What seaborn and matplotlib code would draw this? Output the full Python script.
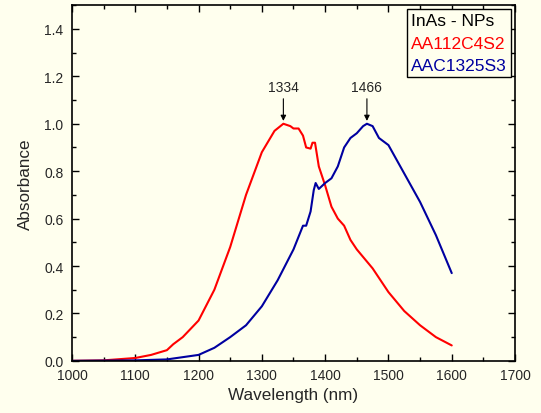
import numpy as np
import pandas as pd
import matplotlib
matplotlib.use("Agg")
import matplotlib.pyplot as plt
from matplotlib.ticker import MultipleLocator
import seaborn as sns

# Data
red_label = "AA112C4S2"
red_x = [1000, 1050, 1100, 1125, 1150, 1160, 1175, 1200, 1225, 1250, 1275, 1300, 1320, 1334,
         1345, 1350, 1358, 1365, 1370, 1377, 1380, 1384, 1390, 1400, 1410, 1420, 1430, 1440,
         1450, 1475, 1500, 1525, 1550, 1575, 1600]
red_y = [0.0, 0.002, 0.012, 0.025, 0.045, 0.07, 0.10, 0.17, 0.30, 0.48, 0.70, 0.88, 0.97, 1.0,
         0.99, 0.98, 0.98, 0.95, 0.90, 0.895, 0.92, 0.92, 0.82, 0.74, 0.65, 0.60, 0.57, 0.51,
         0.47, 0.39, 0.29, 0.21, 0.15, 0.10, 0.065]

blue_label = "AAC1325S3"
blue_x = [1000, 1100, 1150, 1200, 1225, 1250, 1265, 1275, 1300, 1325, 1350, 1365, 1370, 1377,
          1382, 1385, 1390, 1400, 1410, 1420, 1430, 1440, 1450, 1460, 1466, 1475, 1485, 1500,
          1525, 1550, 1575, 1600]
blue_y = [0.0, 0.002, 0.006, 0.025, 0.055, 0.10, 0.13, 0.15, 0.23, 0.34, 0.47, 0.57, 0.57, 0.63,
          0.72, 0.75, 0.725, 0.75, 0.77, 0.82, 0.90, 0.94, 0.96, 0.99, 1.0, 0.99, 0.94, 0.91,
          0.79, 0.67, 0.53, 0.37]

peak_labels = ["1334", "1466"]
peak_x = [1334, 1466]
peak_y = [1.0, 1.0]

legend_title = "InAs - NPs"

bg = "#FFFFEE"

sns.set_style("ticks")
plt.rcParams['font.family'] = ['Liberation Sans', 'DejaVu Sans']

fig = plt.figure(figsize=(5.41, 4.14), dpi=100, facecolor=bg)
ax = fig.add_axes([0.133, 0.126, 0.819, 0.859])
ax.set_facecolor(bg)

df_red = pd.DataFrame({"x": red_x, "y": red_y})
df_blue = pd.DataFrame({"x": blue_x, "y": blue_y})
sns.lineplot(data=df_red, x="x", y="y", ax=ax, color="#FF0000", linewidth=1.5)
sns.lineplot(data=df_blue, x="x", y="y", ax=ax, color="#0000A0", linewidth=1.5)

ax.set_xlim(1000, 1700)
ax.set_ylim(0, 1.5)
ax.xaxis.set_major_locator(MultipleLocator(100))
ax.xaxis.set_minor_locator(MultipleLocator(50))
ax.yaxis.set_major_locator(MultipleLocator(0.2))
ax.yaxis.set_minor_locator(MultipleLocator(0.1))
ax.yaxis.set_major_formatter(matplotlib.ticker.FormatStrFormatter("%.1f"))
ax.tick_params(which="both", direction="in", top=True, right=True, labelsize=10, color="black")
ax.tick_params(axis="x", which="major", pad=5)
ax.tick_params(axis="y", which="major", pad=6)
ax.tick_params(which="major", length=5, width=1)
ax.tick_params(which="minor", length=3, width=1)
for s in ax.spines.values():
    s.set_linewidth(1.2)
    s.set_color("black")
    s.set_visible(True)

ax.set_xlabel("Wavelength (nm)", fontsize=12.3, labelpad=4)
ax.set_ylabel("Absorbance", fontsize=12.3, labelpad=8)

for lab, px, py in zip(peak_labels, peak_x, peak_y):
    ax.annotate(lab, xy=(px, py + 0.012), xytext=(px, py + 0.125), ha="center", va="bottom",
                fontsize=10,
                arrowprops=dict(arrowstyle="-|>", color="black", lw=0.8, mutation_scale=8,
                                shrinkA=1, shrinkB=0))

# text-only legend
from matplotlib.offsetbox import TextArea, VPacker, AnchoredOffsetbox
texts = [TextArea(legend_title, textprops=dict(color="black", fontsize=12.5)),
         TextArea(red_label, textprops=dict(color="#FF0000", fontsize=12.5)),
         TextArea(blue_label, textprops=dict(color="#0000A0", fontsize=12.5)),]
box = VPacker(children=texts, align="left", pad=0, sep=5.5)
anch = AnchoredOffsetbox(loc="upper right", child=box, pad=0.3, borderpad=0.0, frameon=True,
                         bbox_to_anchor=(0.99, 0.99), bbox_transform=ax.transAxes)
anch.patch.set_edgecolor("black")
anch.patch.set_facecolor(bg)
anch.patch.set_linewidth(1)
ax.add_artist(anch)

fig.savefig("out.png", dpi=100, facecolor=bg)
